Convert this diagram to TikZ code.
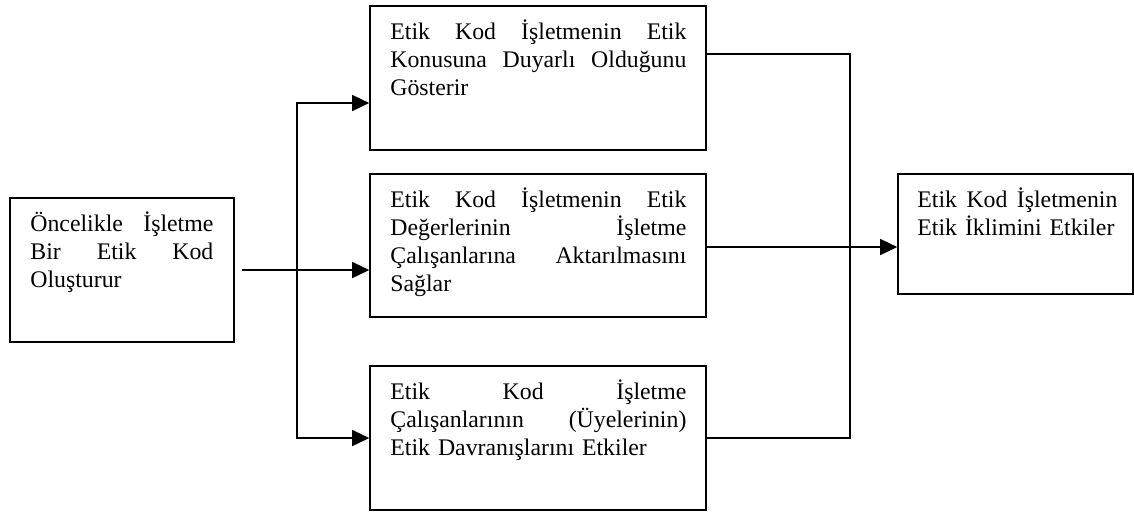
\documentclass[tikz,border=0pt]{standalone}
\usepackage{fontspec}
\setmainfont{Liberation Serif}
\usetikzlibrary{arrows.meta,calc}
\newcommand{\jl}[2]{\leavevmode\hbox to #1{#2}}
\begin{document}
\begin{tikzpicture}[x=0.5pt,y=-0.5pt,
  box/.style={draw,line width=0.8pt,rectangle,inner sep=0pt},
  txt/.style={inner sep=0pt,anchor=base west,align=left,font=\fontsize{11.9}{14}\selectfont},
  conn/.style={line width=0.7pt},
  arr/.style={conn,-{Triangle[length=8.5pt,width=8pt]}}]
\useasboundingbox (0,0) rectangle (1134,511);
% boxes
\node[box,minimum width=112pt,minimum height=72pt] (L) at (122,270) {};
\node[box,minimum width=168pt,minimum height=72pt] (T) at (538,78) {};
\node[box,minimum width=168pt,minimum height=71.5pt] (M) at (538,245.5) {};
\node[box,minimum width=168pt,minimum height=72pt] (B) at (538,438) {};
\node[box,minimum width=117.5pt,minimum height=60pt] (R) at (1015.5,234) {};
% texts
\node[txt,text width=91.5pt] (tL) at (30,231) {\jl{91.5pt}{Öncelikle\hfill İşletme}\\\jl{91.5pt}{Bir\hfill Etik\hfill Kod}\\Oluşturur};
\node[txt,text width=148pt] (tT) at (390,39) {\jl{148pt}{Etik\hfill Kod\hfill İşletmenin\hfill Etik}\\\jl{148pt}{Konusuna\hfill Duyarlı\hfill Olduğunu}\\Gösterir};
\node[txt,text width=148pt] (tM) at (390,207) {\jl{148pt}{Etik\hfill Kod\hfill İşletmenin\hfill Etik}\\\jl{148pt}{Değerlerinin\hfill İşletme}\\\jl{148pt}{Çalışanlarına\hfill Aktarılmasını}\\Sağlar};
\node[txt,text width=148pt] (tB) at (390,399) {\jl{148pt}{Etik\hfill Kod\hfill İşletme}\\\jl{148pt}{Çalışanlarının\hfill (Üyelerinin)}\\Etik Davranışlarını Etkiler};
\node[txt,text width=100pt] (tR) at (917,207) {\jl{100pt}{Etik\hfill Kod\hfill İşletmenin}\\Etik İklimini Etkiler};
% junctions
\coordinate (jl) at (297,270);
\coordinate (jr) at (850,247);
\coordinate (tin) at ($(T.west)+(0,25)$);
\coordinate (tout) at ($(T.east)+(0,-24)$);
\coordinate (mout) at ($(M.east)+(0,1.5)$);
% left connectors
\draw[arr,shorten <=3.5pt] (L.east) -- (L.east -| M.west);
\draw[arr] (jl) |- (tin);
\draw[arr] (jl) |- (B.west);
% right connectors
\draw[conn] (tout) -| (jr);
\draw[conn] (B.east) -| (jr);
\draw[arr] (mout) -- (mout -| R.west);
\end{tikzpicture}
\end{document}
